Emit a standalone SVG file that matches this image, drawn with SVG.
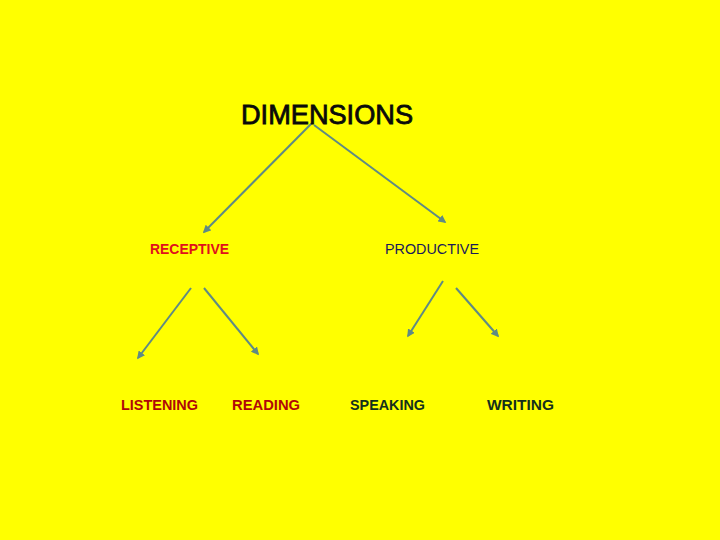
<svg xmlns="http://www.w3.org/2000/svg" width="720" height="540" viewBox="0 0 720 540">
<style>
text{font-family:"Liberation Sans",Arial,sans-serif}
.a{stroke:#5f8a84;stroke-width:2;fill:none;marker-end:url(#ah)}
.red{fill:#e0101c;font-weight:bold;font-size:15px}
.dred{fill:#b00808;font-weight:bold;font-size:15px}
.dk{fill:#14301c;font-weight:bold;font-size:15px}
</style>
<defs>
<marker id="ah" viewBox="0 0 10 10" refX="8" refY="5" markerWidth="4" markerHeight="4" orient="auto" markerUnits="strokeWidth">
<path d="M0,0 L10,5 L0,10 z" fill="#5f8a84"/>
</marker>
</defs>
<rect width="720" height="540" fill="#ffff00"/>
<g id="connectors">
<line class="a" x1="312" y1="123" x2="204" y2="232"/>
<line class="a" x1="314" y1="125" x2="445" y2="222"/>
<line class="a" x1="191" y1="288" x2="138" y2="358"/>
<line class="a" x1="204" y1="288" x2="258" y2="354"/>
<line class="a" x1="443" y1="281" x2="408" y2="336"/>
<line class="a" x1="456" y1="288" x2="498" y2="336"/>
</g>
<g id="dimensions"><text x="241" y="124" font-size="27" fill="#0a0a0a" stroke="#0a0a0a" stroke-width="0.8" textLength="172" lengthAdjust="spacingAndGlyphs">DIMENSIONS</text></g>
<g id="receptive"><text class="red" x="150" y="254" textLength="79" lengthAdjust="spacingAndGlyphs">RECEPTIVE</text></g>
<g id="productive"><text x="385" y="254" font-size="15" fill="#1a1a5a" textLength="94" lengthAdjust="spacingAndGlyphs">PRODUCTIVE</text></g>
<g id="listening"><text class="dred" x="121" y="410" textLength="77" lengthAdjust="spacingAndGlyphs">LISTENING</text></g>
<g id="reading"><text class="dred" x="232" y="410" textLength="68" lengthAdjust="spacingAndGlyphs">READING</text></g>
<g id="speaking"><text class="dk" x="350" y="410" textLength="75" lengthAdjust="spacingAndGlyphs">SPEAKING</text></g>
<g id="writing"><text class="dk" x="487" y="410" textLength="67" lengthAdjust="spacingAndGlyphs">WRITING</text></g>
</svg>
